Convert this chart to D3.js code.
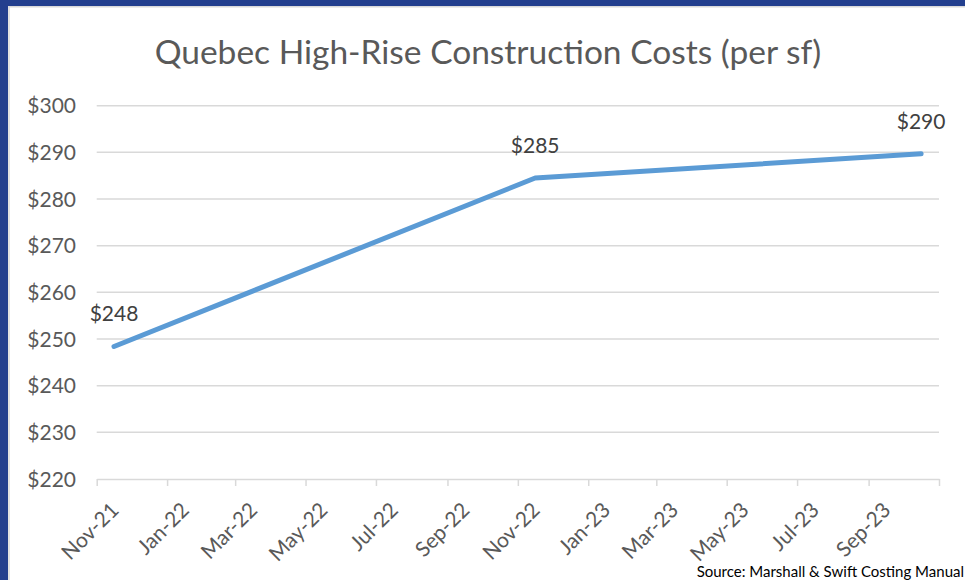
<!DOCTYPE html>
<html>
<head>
<meta charset="utf-8">
<script src="https://cdn.jsdelivr.net/npm/d3@7"></script>
<style>
  body { margin: 0; background: #fff; }
  svg { display: block; font-family: Lato, "Open Sans", sans-serif; }
</style>
</head>
<body>
<div id="chart"></div>
<script>
// data
const months = ["2021-11", "2022-11", "2023-10"];
const costs = [248.4, 284.5, 289.7];
const costLabels = ["$248", "$285", "$290"];
const yTicks = [220, 230, 240, 250, 260, 270, 280, 290, 300];

const width = 965, height = 580;
const plot = { left: 96.7, right: 939, top: 105.7, bottom: 479 };

const svg = d3.select("#chart").append("svg")
  .attr("width", width)
  .attr("height", height);

// frame
svg.append("rect").attr("width", width).attr("height", height).attr("fill", "#fff");
svg.append("rect").attr("x", 0).attr("y", 0).attr("width", width).attr("height", 6).attr("fill", "#233f8e");
svg.append("rect").attr("x", 0).attr("y", 0).attr("width", 8).attr("height", height).attr("fill", "#233f8e");
svg.append("line").attr("x1", 8.5).attr("x2", width).attr("y1", 6.8).attr("y2", 6.8)
  .attr("stroke", "#d9d9d9").attr("stroke-width", 1.5);
svg.append("line").attr("x1", 9).attr("x2", 9).attr("y1", 6).attr("y2", height)
  .attr("stroke", "#d9d9d9").attr("stroke-width", 1.5);

// title
svg.append("text")
  .attr("x", 488).attr("y", 64)
  .attr("text-anchor", "middle")
  .attr("fill", "#595959")
  .style("font-size", "33.5px")
  .text("Quebec High-Rise Construction Costs (per sf)");

const parse = d3.utcParse("%Y-%m");
const x = d3.scaleUtc()
  .domain([parse("2021-11"), parse("2023-11")])
  .range([plot.left, plot.right]);
const y = d3.scaleLinear()
  .domain([220, 300])
  .range([plot.bottom, plot.top]);

// points sit in the middle of their month
const midX = m => {
  const d = parse(m);
  return (x(d) + x(d3.utcMonth.offset(d, 1))) / 2;
};

// gridlines
svg.append("g").selectAll("line")
  .data(yTicks.filter(v => v > 220))
  .join("line")
  .attr("x1", plot.left).attr("x2", plot.right)
  .attr("y1", d => y(d)).attr("y2", d => y(d))
  .attr("stroke", "#d9d9d9").attr("stroke-width", 1.5);

// y labels
svg.append("g").selectAll("text")
  .data(yTicks)
  .join("text")
  .attr("x", 76).attr("y", d => y(d))
  .attr("dy", "0.36em")
  .attr("text-anchor", "end")
  .attr("fill", "#595959")
  .style("font-size", "21px")
  .text(d => "$" + d);

// x axis
const tickDates = d3.utcMonth.every(2).range(parse("2021-11"), d3.utcDay.offset(parse("2023-11"), 1));
const fmt = d3.utcFormat("%b-%y");
const xAxis = d3.axisBottom(x)
  .tickValues(tickDates)
  .tickSize(7)
  .tickSizeOuter(0)
  .tickFormat("");
const gx = svg.append("g")
  .attr("transform", `translate(0,${plot.bottom})`)
  .call(xAxis);
gx.select(".domain").attr("stroke", "#d9d9d9").attr("stroke-width", 1.5);
gx.selectAll(".tick line").attr("stroke", "#d9d9d9").attr("stroke-width", 1.5);

svg.append("g").selectAll("text")
  .data(tickDates.slice(0, -1))
  .join("text")
  .attr("transform", d => `translate(${x(d) + 18},${plot.bottom + 27}) rotate(-45)`)
  .attr("dy", "0.36em")
  .attr("text-anchor", "end")
  .attr("fill", "#595959")
  .style("font-size", "21px")
  .text(d => fmt(d));

// line
const pts = months.map((m, i) => ({ m, v: costs[i], label: costLabels[i] }));
svg.append("path")
  .datum(pts)
  .attr("fill", "none")
  .attr("stroke", "#5b9bd5")
  .attr("stroke-width", 5)
  .attr("stroke-linecap", "round")
  .attr("stroke-linejoin", "round")
  .attr("d", d3.line().x(d => midX(d.m)).y(d => y(d.v)));

// data labels
svg.append("g").selectAll("text")
  .data(pts)
  .join("text")
  .attr("x", d => midX(d.m))
  .attr("y", d => y(d.v) - 25)
  .attr("text-anchor", "middle")
  .attr("fill", "#404040")
  .style("font-size", "21px")
  .text(d => d.label);

// source note
svg.append("text")
  .attr("x", 964).attr("y", 577)
  .attr("text-anchor", "end")
  .attr("fill", "#000")
  .style("font-size", "15px")
  .text("Source: Marshall & Swift Costing Manual");
</script>
</body>
</html>
